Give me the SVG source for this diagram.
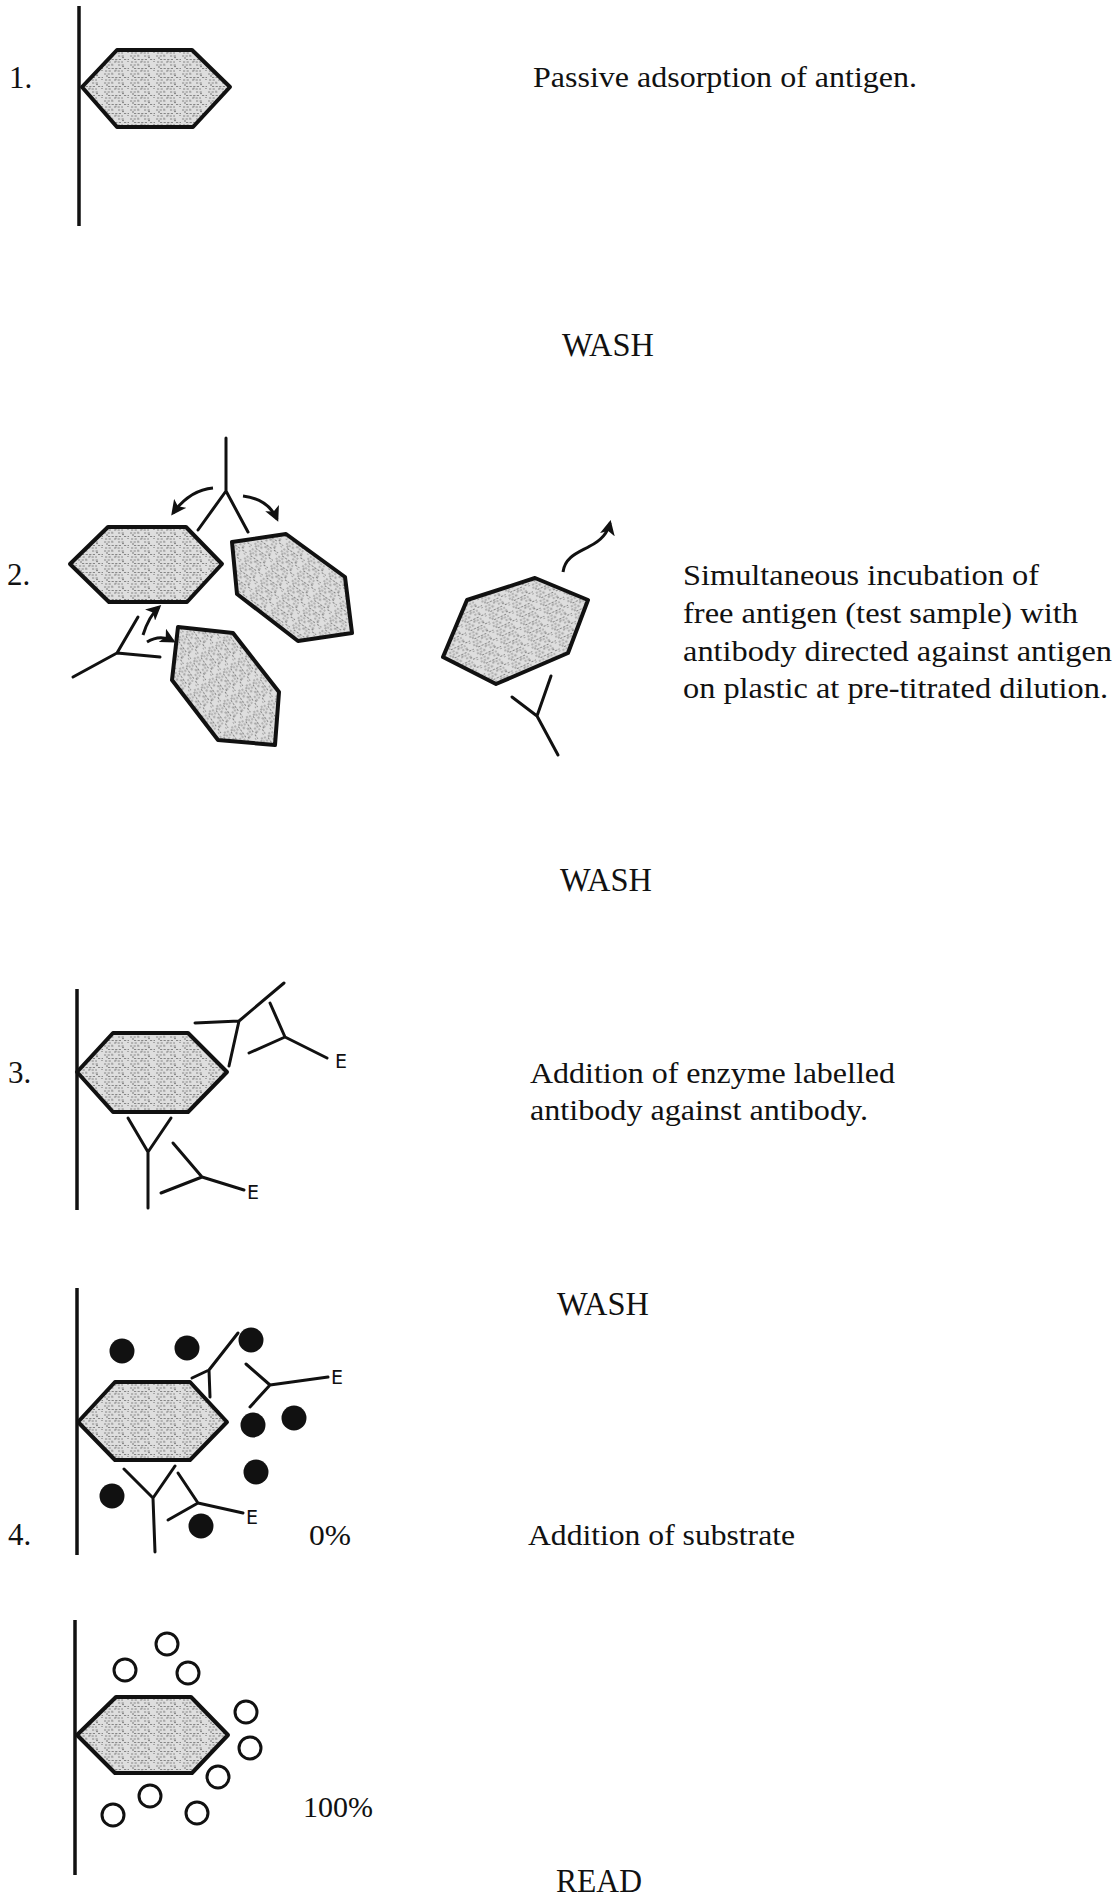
<svg xmlns="http://www.w3.org/2000/svg" width="1120" height="1896" viewBox="0 0 1120 1896">
  <style>
    .txt { font-family: "Liberation Serif", "Times New Roman", serif; font-size: 30px; fill: #111; }
    .num { font-family: "Liberation Serif", "Times New Roman", serif; font-size: 31px; fill: #111; }
    .wash { font-family: "Liberation Serif", "Times New Roman", serif; font-size: 33px; fill: #111; }
    .enz { font-family: "DejaVu Sans", "Liberation Sans", sans-serif; font-size: 19px; fill: #111; }
    .plate { stroke: #111; stroke-width: 3.5; fill: none; }
    .antigen { stroke: #111; stroke-width: 4; stroke-linejoin: round; }
    .ab { stroke: #111; stroke-width: 3; fill: none; stroke-linecap: round; stroke-linejoin: round; }
    .dot { fill: #111; }
    .ring { fill: none; stroke: #111; stroke-width: 3; }
    .arrow { fill: none; stroke: #111; stroke-width: 3; }
  </style>
  <defs>
    <!-- grey stippled fill for the antigen particles -->
    <pattern id="grain" width="26" height="9" patternUnits="userSpaceOnUse">
      <rect width="26" height="9" fill="#dedede"/>
      <path d="M0 2h10M14 2h7M4 5.5h13M20 5.5h5M1 8h6M10 8h9" stroke="#7c7c7c" stroke-width="0.9" stroke-dasharray="2.2 1.4"/>
      <circle cx="3" cy="4" r="0.7" fill="#555"/>
      <circle cx="12" cy="7" r="0.6" fill="#666"/>
      <circle cx="19" cy="3.5" r="0.7" fill="#555"/>
      <circle cx="24" cy="7.5" r="0.6" fill="#666"/>
      <circle cx="8" cy="1" r="0.5" fill="#777"/>
    </pattern>
    <pattern id="grainB" href="#grain" patternTransform="rotate(35)"/>
    <pattern id="grainC" href="#grain" patternTransform="rotate(55)"/>
    <pattern id="grainD" href="#grain" patternTransform="rotate(-25)"/>
    <marker id="head" viewBox="0 0 10 10" refX="8" refY="5" markerWidth="5" markerHeight="5" orient="auto" markerUnits="strokeWidth">
      <path d="M0,0 L10,5 L0,10 L2.5,5 Z" fill="#111"/>
    </marker>
  </defs>

  <!-- step 1: antigen adsorbed onto the plastic -->
  <g id="step1">
    <text class="num" x="9" y="88">1.</text>
    <path class="plate" d="M79,6 V226"/>
    <polygon class="antigen" fill="url(#grain)" points="82,87 117,50 192,50 230,87 193,127 117,127"/>
    <text class="txt" x="533" y="87" textLength="384" lengthAdjust="spacingAndGlyphs">Passive adsorption of antigen.</text>
  </g>

  <g id="wash1"><text class="wash" x="562" y="356" textLength="92" lengthAdjust="spacingAndGlyphs">WASH</text></g>

  <!-- step 2: free antigen competing for antibody -->
  <g id="step2">
    <text class="num" x="7" y="585">2.</text>
    <polygon class="antigen" fill="url(#grain)" points="70,564 108,527 186,527 222,564 187,602 109,602"/>
    <polygon class="antigen" fill="url(#grainB)" points="232,542 286,534 345,577 352,633 298,641 237,594"/>
    <polygon class="antigen" fill="url(#grainC)" points="178,627 233,633 279,692 275,745 218,740 172,680"/>
    <path class="ab" d="M226,438 V491 M198,530 L226,491 L248,532"/>
    <path class="ab" d="M138,617 L117,653 L160,657 M117,653 L73,677"/>
  </g>
  <g id="step2-bound">
    <polygon class="antigen" fill="url(#grainD)" points="535,578 588,600 568,653 496,684 443,657 467,600"/>
    <path class="ab" d="M512,697 L537,716 M551,676 L537,716 L558,755"/>
    <text class="txt" x="683" y="585" textLength="356" lengthAdjust="spacingAndGlyphs">Simultaneous incubation of</text>
    <text class="txt" x="683" y="623" textLength="395" lengthAdjust="spacingAndGlyphs">free antigen (test sample) with</text>
    <text class="txt" x="683" y="661" textLength="429" lengthAdjust="spacingAndGlyphs">antibody directed against antigen</text>
    <text class="txt" x="683" y="698" textLength="425" lengthAdjust="spacingAndGlyphs">on plastic at pre-titrated dilution.</text>
  </g>

  <g id="wash2"><text class="wash" x="560" y="891" textLength="92" lengthAdjust="spacingAndGlyphs">WASH</text></g>

  <!-- step 3: enzyme labelled second antibody -->
  <g id="step3">
    <text class="num" x="8" y="1083">3.</text>
    <path class="plate" d="M77,989 V1210"/>
    <polygon class="antigen" fill="url(#grain)" points="77,1072 113,1033 188,1033 227,1072 188,1112 113,1112"/>
    <path class="ab" d="M195,1023 L239,1021 L284,983 M239,1021 L229,1066"/>
    <path class="ab" d="M270,1003 L285,1037 L249,1053 M285,1037 L327,1058"/>
    <text class="enz" x="335" y="1068">E</text>
    <path class="ab" d="M128,1118 L148,1152 L171,1118 M148,1152 V1208"/>
    <path class="ab" d="M173,1143 L202,1177 L161,1193 M202,1177 L244,1190"/>
    <text class="enz" x="247" y="1199">E</text>
    <text class="txt" x="530" y="1083" textLength="365" lengthAdjust="spacingAndGlyphs">Addition of enzyme labelled</text>
    <text class="txt" x="530" y="1120" textLength="338" lengthAdjust="spacingAndGlyphs">antibody against antibody.</text>
  </g>

  <g id="wash3"><text class="wash" x="557" y="1315" textLength="92" lengthAdjust="spacingAndGlyphs">WASH</text></g>

  <!-- step 4: substrate added, no colour -->
  <g id="step4">
    <text class="num" x="8" y="1545">4.</text>
    <path class="plate" d="M77,1288 V1555"/>
    <polygon class="antigen" fill="url(#grain)" points="78,1422 115,1382 190,1382 227,1422 190,1460 115,1460"/>
    <circle class="dot" cx="122" cy="1351" r="12.5"/>
    <circle class="dot" cx="187" cy="1348" r="12.5"/>
    <circle class="dot" cx="251" cy="1340" r="12.5"/>
    <circle class="dot" cx="294" cy="1418" r="12.5"/>
    <circle class="dot" cx="253" cy="1425" r="12.5"/>
    <circle class="dot" cx="256" cy="1472" r="12.5"/>
    <circle class="dot" cx="112" cy="1496" r="12.5"/>
    <circle class="dot" cx="201" cy="1526" r="12.5"/>
    <path class="ab" d="M192,1378 L209,1370 L238,1333 M209,1370 L210,1397"/>
    <path class="ab" d="M246,1364 L270,1385 L250,1407 M270,1385 L328,1377"/>
    <text class="enz" x="331" y="1384">E</text>
    <path class="ab" d="M124,1469 L153,1498 L175,1466 M153,1498 L155,1552"/>
    <path class="ab" d="M178,1473 L198,1503 L168,1520 M198,1503 L243,1513"/>
    <text class="enz" x="246" y="1524">E</text>
    <text class="txt" x="309" y="1545" textLength="42" lengthAdjust="spacingAndGlyphs">0%</text>
    <text class="txt" x="528" y="1545" textLength="267" lengthAdjust="spacingAndGlyphs">Addition of substrate</text>
  </g>

  <!-- step 5: full colour development -->
  <g id="step5">
    <path class="plate" d="M75,1620 V1875"/>
    <polygon class="antigen" fill="url(#grain)" points="77,1735 116,1697 191,1697 228,1735 192,1773 115,1773"/>
    <circle class="ring" cx="167" cy="1644" r="11"/>
    <circle class="ring" cx="125" cy="1670" r="11"/>
    <circle class="ring" cx="188" cy="1673" r="11"/>
    <circle class="ring" cx="246" cy="1712" r="11"/>
    <circle class="ring" cx="250" cy="1748" r="11"/>
    <circle class="ring" cx="218" cy="1777" r="11"/>
    <circle class="ring" cx="150" cy="1796" r="11"/>
    <circle class="ring" cx="113" cy="1815" r="11"/>
    <circle class="ring" cx="197" cy="1813" r="11"/>
    <text class="txt" x="303" y="1817" textLength="70" lengthAdjust="spacingAndGlyphs">100%</text>
  </g>

  <g id="read"><text class="wash" x="556" y="1892" textLength="86" lengthAdjust="spacingAndGlyphs">READ</text></g>

  <!-- movement arrows -->
  <g id="connectors">
    <path class="arrow" marker-end="url(#head)" d="M213,488 Q190,490 173,513"/>
    <path class="arrow" marker-end="url(#head)" d="M243,496 Q268,499 277,519"/>
    <path class="arrow" marker-end="url(#head)" d="M143,635 Q149,616 159,607"/>
    <path class="arrow" marker-end="url(#head)" d="M147,642 Q160,634 173,641"/>
    <path class="arrow" marker-end="url(#head)" d="M563,572 C565,556 580,552 590,546 C602,540 608,532 610,523"/>
  </g>
</svg>
